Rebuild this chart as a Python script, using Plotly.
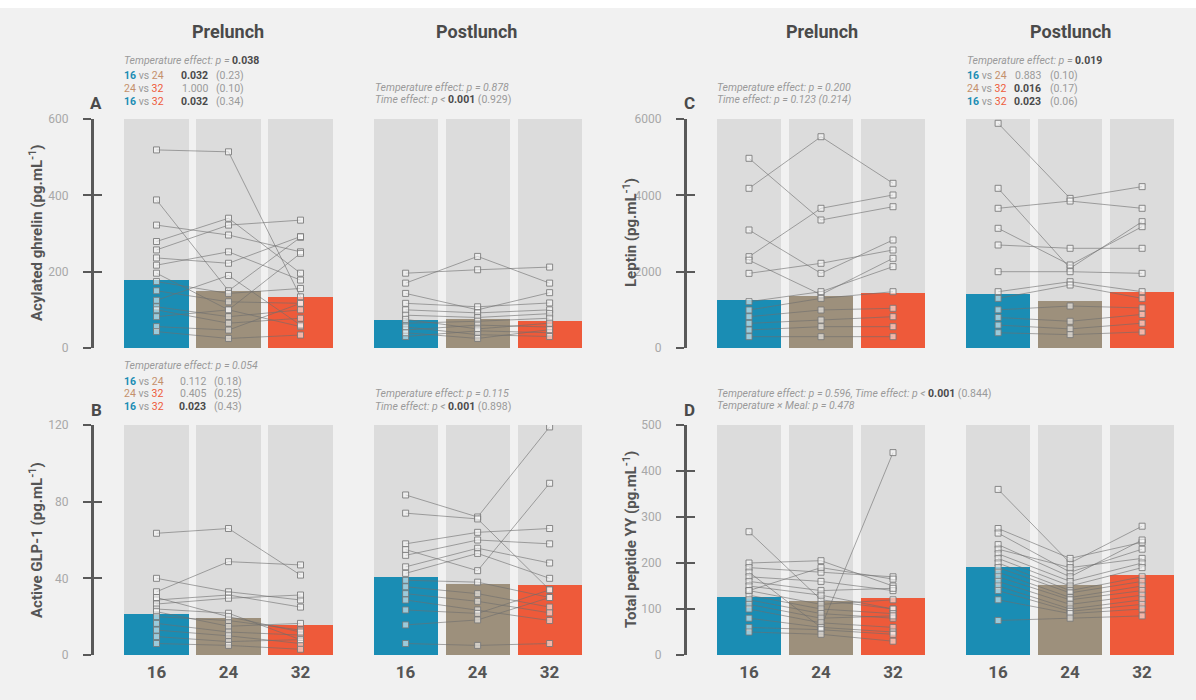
import plotly.graph_objects as go

W, H = 1196, 700
FONT = "Roboto, sans-serif"

temps = ["16", "24", "32"]
bar_colors = ["#1a8db4", "#9d907c", "#ee5a3a"]
column_bg = "#dcdcdc"

# ---- Panel A: acylated ghrelin (pg.mL-1) ----
ghrelin_ticks = [0, 200, 400, 600]
ghrelin_pre_mean = [178, 149, 134]
ghrelin_post_mean = [73, 75, 72]
ghrelin_pre = [
    [519, 514, 134], [388, 150, 290], [322, 296, 252], [279, 340, 196],
    [257, 322, 335], [236, 222, 292], [217, 252, 178], [196, 100, 248],
    [174, 143, 156], [150, 121, 117], [108, 82, 100], [100, 65, 78],
    [82, 100, 56], [56, 47, 117], [43, 25, 34], [125, 190, 60],
]
ghrelin_post = [
    [196, 205, 212], [170, 240, 170], [143, 100, 145], [117, 108, 118],
    [100, 92, 100], [86, 80, 90], [65, 70, 78], [47, 60, 55],
    [30, 45, 40], [75, 50, 65], [55, 35, 30], [40, 25, 48],
]

# ---- Panel B: active GLP-1 (pg.mL-1) ----
glp1_ticks = [0, 40, 80, 120]
glp1_pre_mean = [21.4, 19.1, 15.7]
glp1_post_mean = [40.9, 37.0, 36.5]
glp1_pre = [
    [63.5, 66, 41.7], [40, 33, 28.7], [33, 48.7, 47], [28.7, 31.3, 25],
    [26.6, 29.6, 31.3], [24, 21.8, 8], [22.6, 15, 16.5], [20, 18, 13],
    [16.5, 12, 10.4], [13, 10, 6], [9.6, 7, 8], [6, 5, 3], [30, 20, 12],
]
glp1_post = [
    [83.5, 72, 119], [74, 71, 34], [58, 64, 66], [55, 44, 89.6],
    [52, 60, 58], [46, 55.7, 48], [42.6, 53, 40], [39, 38, 30],
    [35.6, 32, 25], [32, 28, 22], [28.7, 23.5, 18], [23.5, 21.7, 34],
    [15.7, 18.3, 30], [6, 5, 6],
]

# ---- Panel C: leptin (pg.mL-1) ----
leptin_ticks = [0, 2000, 4000, 6000]
leptin_pre_mean = [1258, 1370, 1449]
leptin_post_mean = [1406, 1240, 1476]
leptin_pre = [
    [4970, 3354, 3702], [4184, 5536, 4315], [2393, 3660, 4009], [3092, 1956, 2830],
    [1956, 2219, 2568], [2300, 1400, 2350], [1213, 1475, 2131], [996, 1300, 1475],
    [820, 996, 1040], [646, 733, 820], [472, 559, 559], [297, 297, 297],
]
leptin_post = [
    [5887, 3920, 4228], [3660, 3850, 3660], [4184, 2088, 3310], [3136, 2175, 3179],
    [2699, 2612, 2612], [1999, 1999, 1956], [1475, 1737, 1475], [1300, 1650, 1300],
    [1000, 1100, 1050], [800, 700, 880], [600, 500, 650], [400, 350, 420],
]

# ---- Panel D: total peptide YY (pg.mL-1) ----
pyy_ticks = [0, 100, 200, 300, 400, 500]
pyy_pre_mean = [126, 117, 124]
pyy_post_mean = [191, 152, 174]
pyy_pre = [
    [268, 120, 100], [200, 205, 150], [190, 180, 170], [180, 60, 440],
    [170, 160, 140], [160, 140, 145], [150, 130, 100], [140, 110, 120],
    [130, 100, 90], [120, 90, 80], [110, 80, 85], [100, 70, 60],
    [80, 60, 50], [60, 55, 45], [50, 45, 30], [140, 190, 165],
]
pyy_post = [
    [360, 200, 280], [275, 210, 245], [265, 180, 230], [240, 170, 250],
    [230, 190, 210], [220, 160, 200], [210, 150, 190], [200, 140, 170],
    [190, 135, 160], [180, 125, 150], [170, 120, 140], [160, 110, 130],
    [150, 100, 120], [140, 95, 110], [120, 90, 100], [75, 80, 85],
]

# column positions on each panel's x axis (prelunch, postlunch)
pre_x = [0, 1, 2]
post_x = [3.46, 4.46, 5.46]
BAR_W = 0.89
PX_PER_UNIT = 72.0


def fx(px):
    return px / W


def fy(py):
    return 1 - py / H


panels = [
    dict(n=1, ax=94, col0=156.5, top=119, bot=348, ticks=ghrelin_ticks,
         pre_m=ghrelin_pre_mean, post_m=ghrelin_post_mean, pre=ghrelin_pre, post=ghrelin_post, xl=False),
    dict(n=2, ax=94, col0=156.5, top=425, bot=655, ticks=glp1_ticks,
         pre_m=glp1_pre_mean, post_m=glp1_post_mean, pre=glp1_pre, post=glp1_post, xl=True),
    dict(n=3, ax=687, col0=749, top=119, bot=348, ticks=leptin_ticks,
         pre_m=leptin_pre_mean, post_m=leptin_post_mean, pre=leptin_pre, post=leptin_post, xl=False),
    dict(n=4, ax=687, col0=749, top=425, bot=655, ticks=pyy_ticks,
         pre_m=pyy_pre_mean, post_m=pyy_post_mean, pre=pyy_pre, post=pyy_post, xl=True),
]

fig = go.Figure()
layout = {}

for p in panels:
    n = p["n"]
    xa = "x" if n == 1 else f"x{n}"
    ya = "y" if n == 1 else f"y{n}"
    ymax = p["ticks"][-1]
    xs = pre_x + post_x

    # full-height grey columns
    fig.add_trace(go.Bar(x=xs, y=[ymax] * 6, width=BAR_W, marker_color=column_bg,
                         marker_line_width=0, xaxis=xa, yaxis=ya, hoverinfo="skip",
                         showlegend=False))
    # mean bars
    fig.add_trace(go.Bar(x=xs, y=p["pre_m"] + p["post_m"], width=BAR_W,
                         marker_color=bar_colors * 2, marker_line_width=0,
                         xaxis=xa, yaxis=ya, showlegend=False))
    # individual participants
    lx, ly = [], []
    for subj in p["pre"]:
        lx += pre_x + [None]
        ly += subj + [None]
    for subj in p["post"]:
        lx += post_x + [None]
        ly += subj + [None]
    fig.add_trace(go.Scatter(
        x=lx, y=ly, mode="lines+markers", xaxis=xa, yaxis=ya, showlegend=False,
        line=dict(color="rgba(110,110,110,0.6)", width=1),
        marker=dict(symbol="square", size=6, color="rgba(255,255,255,0.55)",
                    line=dict(color="rgba(120,120,120,0.85)", width=1)),
        connectgaps=False,
    ))

    left = (p["ax"] - p["col0"]) / PX_PER_UNIT
    right = (p["ax"] + 496 - p["col0"]) / PX_PER_UNIT
    xkey = "xaxis" if n == 1 else f"xaxis{n}"
    layout[xkey] = dict(
        domain=[fx(p["ax"]), fx(p["ax"] + 496)], range=[left, right], anchor=ya,
        showgrid=False, zeroline=False, showline=False, ticks="", automargin=False,
        tickvals=xs, ticktext=[f"<b>{t}</b>" for t in temps * 2], showticklabels=p["xl"],
        tickfont=dict(family=FONT, size=17, color="#555"), ticklabelstandoff=5,
    )
    ykey = "yaxis" if n == 1 else f"yaxis{n}"
    dom = [fy(p["bot"]), fy(p["top"])]
    layout[ykey] = dict(
        domain=dom, range=[0, ymax], anchor=xa, showgrid=False, zeroline=False,
        showline=True, linecolor="#595959", linewidth=3, automargin=False,
        ticks="outside", ticklen=8, tickwidth=2, tickcolor="#595959",
        tickvals=p["ticks"], tickfont=dict(family=FONT, size=12, color="#a8a8a8"),
        ticklabelstandoff=12,
    )
    # inner half of the cross ticks
    m = n + 4
    layout[f"yaxis{m}"] = dict(
        domain=dom, range=[0, ymax], anchor=xa, overlaying=ya, showgrid=False,
        zeroline=False, showline=False, ticks="inside", ticklen=8, tickwidth=2,
        tickcolor="#595959", tickvals=p["ticks"], showticklabels=False, automargin=False,
    )
    fig.add_trace(go.Scatter(x=[None], y=[None], xaxis=xa, yaxis=f"y{m}",
                             showlegend=False, hoverinfo="skip"))

ann = []


def txt(x, y, s, size=10.5, color="#9a9a9a", xanchor="left", angle=0):
    ann.append(dict(x=fx(x), y=fy(y), xref="paper", yref="paper", text=s,
                    showarrow=False, xanchor=xanchor, yanchor="middle", textangle=angle,
                    font=dict(family=FONT, size=size, color=color)))


DARK = "#4a4a4a"
for x, s in [(228, "Prelunch"), (476, "Postlunch"), (822, "Prelunch"), (1070, "Postlunch")]:
    txt(x, 32, f"<b>{s}</b>", size=18, color=DARK, xanchor="center")

for x, y, s in [(96, 103, "A"), (96, 410, "B"), (689, 103, "C"), (689, 410, "D")]:
    txt(x, y, f"<b>{s}</b>", size=17, color=DARK, xanchor="center")

txt(36, 233, "<b>Acylated ghrelin (pg.mL<sup>-1</sup>)</b>", size=15, color="#555", xanchor="center", angle=-90)
txt(36, 540, "<b>Active GLP-1 (pg.mL<sup>-1</sup>)</b>", size=15, color="#555", xanchor="center", angle=-90)
txt(630, 233, "<b>Leptin (pg.mL<sup>-1</sup>)</b>", size=15, color="#555", xanchor="center", angle=-90)
txt(630, 540, "<b>Total peptide YY (pg.mL<sup>-1</sup>)</b>", size=15, color="#555", xanchor="center", angle=-90)

BLUE = "<span style='color:#1a8db4'><b>16</b></span>"
TAUPE = "<span style='color:#c4906c'>24</span>"
RED = "<span style='color:#ee5a3a'>32</span>"


def bold(v):
    return f"<span style='color:#4a4a4a'><b>{v}</b></span>"


def table(x0, y0, rows, p_right, es_left, dy=12.5):
    for i, (lab, pv, es) in enumerate(rows):
        y = y0 + i * dy
        txt(x0, y, lab)
        txt(p_right, y, pv, xanchor="right")
        txt(es_left, y, es)


# Panel A
txt(122, 60, "<i>Temperature effect: p = </i>" + bold("0.038"))
table(122, 76, [(f"{BLUE} vs {TAUPE}", bold("0.032"), "(0.23)"),
                (f"{TAUPE} vs {RED}", "1.000", "(0.10)"),
                (f"{BLUE} vs {RED}", bold("0.032"), "(0.34)")], 210, 214)
txt(373, 87, "<i>Temperature effect: p = 0.878</i>")
txt(373, 100, "<i>Time effect: p < </i>" + bold("0.001") + " (0.929)")

# Panel B
txt(122, 365, "<i>Temperature effect: p = 0.054</i>")
table(122, 381, [(f"{BLUE} vs {TAUPE}", "0.112", "(0.18)"),
                 (f"{TAUPE} vs {RED}", "0.405", "(0.25)"),
                 (f"{BLUE} vs {RED}", bold("0.023"), "(0.43)")], 208, 212)
txt(373, 393, "<i>Temperature effect: p = 0.115</i>")
txt(373, 406, "<i>Time effect: p < </i>" + bold("0.001") + " (0.898)")

# Panel C
txt(715, 87, "<i>Temperature effect: p = 0.200</i>")
txt(715, 100, "<i>Time effect: p = 0.123 (0.214)</i>")
txt(965, 60, "<i>Temperature effect: p = </i>" + bold("0.019"))
table(965, 76, [(f"{BLUE} vs {TAUPE}", "0.883", "(0.10)"),
                (f"{TAUPE} vs {RED}", bold("0.016"), "(0.17)"),
                (f"{BLUE} vs {RED}", bold("0.023"), "(0.06)")], 1043, 1048)

# Panel D
txt(715, 393, "<i>Temperature effect: p = 0.596, Time effect: p < </i>" + bold("0.001") + " (0.844)")
txt(715, 405, "<i>Temperature × Meal: p = 0.478</i>")

fig.update_layout(
    width=W, height=H, margin=dict(l=0, r=0, t=0, b=0, pad=0, autoexpand=False),
    paper_bgcolor="#f1f1f1", plot_bgcolor="rgba(0,0,0,0)",
    barmode="overlay", bargap=0, showlegend=False,
    annotations=ann,
    shapes=[dict(type="rect", xref="paper", yref="paper", x0=0, x1=1,
                 y0=fy(8), y1=1, fillcolor="white", line_width=0, layer="below")],
    font=dict(family=FONT),
    **layout,
)

fig.write_html("out.html")
